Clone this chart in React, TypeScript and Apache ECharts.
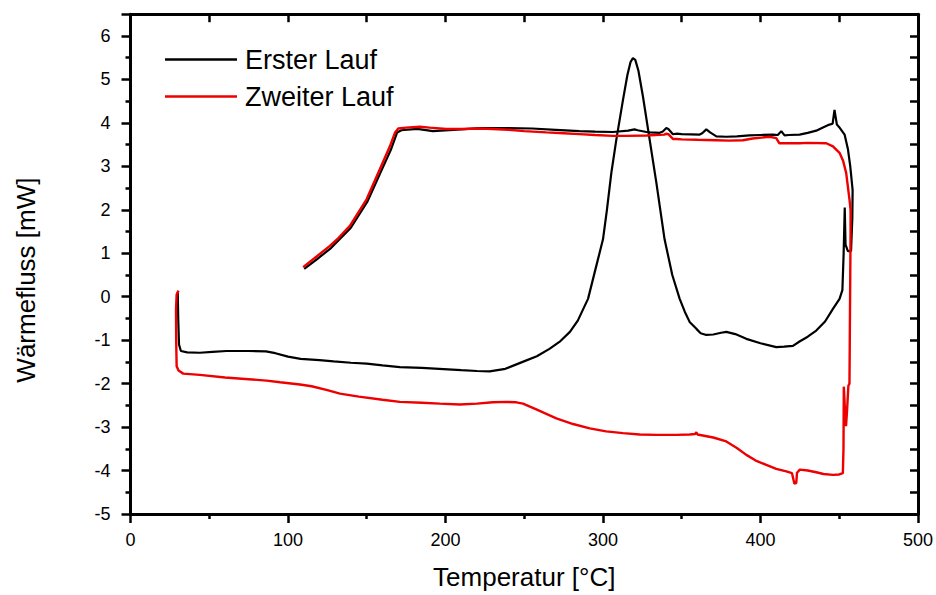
import React, { useEffect, useRef } from "react";
import * as echarts from "echarts";

// Erster Lauf (first run) — temperature [°C] and heat flow [mW] along the measured path
const ersterT = [
  30, 30.3, 30.8, 32, 36, 44, 52, 61, 75, 86, 92, 100, 108, 120, 129, 140, 150, 160, 171, 185, 196, 210, 220, 228,
  238, 249, 258, 266, 273, 279, 284, 287.5, 290.5, 295, 300, 302.5, 305.3, 308.5, 312.7, 315.5, 317.5, 319, 320.5,
  322.5, 325.4, 329.6, 333.9, 339.1, 344, 348.7, 352, 355, 359.3, 362, 365.6, 370, 375, 378.3, 384, 391, 400, 410,
  415, 420.6, 424.8, 430, 435.4, 441, 446, 450.2, 452, 452.8, 453.5, 454, 455.5, 457.5, 458.3, 458.5, 457, 455.5,
  453.4, 450, 448.5, 447, 445.8, 443.8, 440, 435.4, 430, 424.8, 418, 415.3, 413.2, 411, 407.9, 400, 393, 385, 378.3,
  372, 368, 365.6, 363, 361.4, 350, 346.6, 344.4, 341.5, 340.2, 338, 336, 330, 327.6, 322, 320, 316, 306.3, 295, 285,
  270, 255, 240, 222, 205, 192, 182, 172, 169.3, 165.3, 158.8, 150.3, 139.8, 127.3, 118.3, 110.3,
];
const ersterW = [
  0.1, -0.5, -1.1, -1.25, -1.28, -1.29, -1.27, -1.25, -1.25, -1.26, -1.3, -1.38, -1.43, -1.46, -1.49, -1.52, -1.54,
  -1.58, -1.62, -1.64, -1.66, -1.69, -1.71, -1.72, -1.66, -1.5, -1.37, -1.2, -1.02, -0.81, -0.55, -0.28, -0.05, 0.6,
  1.32, 2.0, 2.85, 3.62, 4.53, 5.1, 5.4, 5.49, 5.45, 5.2, 4.6, 3.62, 2.62, 1.32, 0.5, -0.05, -0.35, -0.58, -0.74,
  -0.84, -0.88, -0.87, -0.83, -0.81, -0.86, -0.97, -1.07, -1.16, -1.15, -1.13, -1.03, -0.92, -0.78, -0.57, -0.28,
  -0.05, 0.15, 1.0, 2.05, 1.2, 1.05, 1.05, 1.8, 2.45, 3.0, 3.4, 3.73, 3.9, 3.96, 4.3, 3.98, 3.96, 3.9, 3.82, 3.77,
  3.73, 3.72, 3.71, 3.81, 3.72, 3.73, 3.72, 3.71, 3.69, 3.68, 3.69, 3.78, 3.85, 3.76, 3.73, 3.74, 3.75, 3.74, 3.86,
  3.88, 3.8, 3.77, 3.78, 3.79, 3.83, 3.85, 3.82, 3.79, 3.8, 3.81, 3.84, 3.87, 3.88, 3.88, 3.84, 3.81, 3.86, 3.83,
  3.78, 3.38, 2.86, 2.18, 1.58, 1.12, 0.86, 0.64,
];

// Zweiter Lauf (second run)
const zweiterT = [
  30.5, 29.3, 28.9, 29.0, 29.3, 30.5, 33.5, 44, 60, 75, 86.4, 95, 107.6, 115, 125, 133, 145, 160, 171, 185, 196.4,
  209, 220, 230, 238.7, 245, 249.2, 258, 270.4, 281, 291.6, 302, 312.7, 323.3, 334, 346.6, 355, 358.5, 359.3, 360,
  370, 378.3, 385, 391, 397, 403.7, 410, 416.4, 420, 421.5, 422.7, 423.2, 425, 430, 435.4, 440, 446, 450, 452.3,
  452.7, 452.9, 453.5, 454.3, 455, 455.8, 456.5, 456.7, 457, 457.2, 457.2, 456.5, 454.4, 452.5, 450.2, 446, 441.8,
  430, 424.8, 415, 412, 410, 405.8, 395, 388.8, 380, 372, 360, 350, 346.6, 344.4, 341.5, 340, 339, 333, 327.6, 315,
  306.3, 295, 285, 275, 264, 250, 240, 230, 221.8, 210, 200.6, 190, 183.7, 175, 170, 168, 164.7, 158.3, 149.9,
  139.3, 132, 126.6, 118, 109.6,
];
const zweiterW = [
  0.14, 0.05, -0.3, -1.0, -1.6, -1.7, -1.77, -1.8, -1.86, -1.9, -1.93, -1.97, -2.02, -2.06, -2.15, -2.23, -2.3,
  -2.37, -2.42, -2.44, -2.46, -2.48, -2.46, -2.43, -2.42, -2.43, -2.46, -2.6, -2.8, -2.93, -3.03, -3.1, -3.14, -3.17,
  -3.18, -3.18, -3.17, -3.16, -3.12, -3.17, -3.24, -3.33, -3.48, -3.64, -3.77, -3.87, -3.96, -4.02, -4.06, -4.3,
  -4.29, -4.05, -3.98, -4.0, -4.04, -4.08, -4.1, -4.09, -4.06, -3.5, -2.07, -2.5, -2.98, -2.6, -2.05, -2.0, -1.0, 0.5,
  1.5, 2.0, 2.24, 2.85, 3.12, 3.31, 3.46, 3.53, 3.54, 3.53, 3.53, 3.53, 3.65, 3.68, 3.64, 3.6, 3.59, 3.6, 3.61,
  3.62, 3.63, 3.63, 3.74, 3.75, 3.73, 3.72, 3.71, 3.7, 3.7, 3.72, 3.74, 3.76, 3.78, 3.81, 3.84, 3.86, 3.87, 3.86,
  3.86, 3.89, 3.91, 3.89, 3.87, 3.78, 3.46, 2.93, 2.24, 1.63, 1.35, 1.17, 0.92, 0.68,
];

const seriesNames = ["Erster Lauf", "Zweiter Lauf"];
const seriesColors = ["#000000", "#ee0000"];
const xTitle = "Temperatur [°C]";
const yTitle = "Wärmefluss [mW]";

const zip = (a: number[], b: number[]) => a.map((v, i) => [v, b[i]]);

export default function App() {
  const ref = useRef<HTMLDivElement>(null);
  useEffect(() => {
    if (!ref.current) return;
    const chart = echarts.init(ref.current, undefined, { renderer: "svg" });
    const font = "'Liberation Sans', Arial, sans-serif";
    const axisLine = { show: true, onZero: false, lineStyle: { color: "#000", width: 3 } };
    const tickStyle = { color: "#000", width: 2.5 };
    chart.setOption({
      animation: false,
      backgroundColor: "#fff",
      textStyle: { fontFamily: font },
      grid: { left: 130.5, right: 17.5, top: 14.2, bottom: 78.7, containLabel: false },
      legend: {
        left: 165,
        top: 46,
        orient: "vertical",
        padding: 0,
        icon: "rect",
        itemWidth: 72,
        itemHeight: 2.5,
        itemGap: 10,
        textStyle: { fontSize: 27, color: "#000", fontFamily: font, padding: [0, 0, 0, 3] },
        data: seriesNames.map((n, i) => ({ name: n, itemStyle: { color: seriesColors[i] } })),
      },
      xAxis: [
        {
          type: "value",
          position: "bottom",
          min: 0,
          max: 500,
          interval: 100,
          axisLine,
          axisTick: { show: true, inside: false, length: 9, lineStyle: tickStyle },
          minorTick: { show: true, splitNumber: 2, length: 5, lineStyle: tickStyle },
          axisLabel: { color: "#000", fontSize: 18, margin: 17, fontFamily: font },
          splitLine: { show: false },
          name: xTitle,
          nameLocation: "middle",
          nameGap: 50,
          nameTextStyle: { fontSize: 26, color: "#000", fontFamily: font },
        },
        {
          type: "value",
          position: "top",
          min: 0,
          max: 500,
          interval: 50,
          axisLine,
          axisTick: { show: true, inside: true, length: 8, lineStyle: tickStyle },
          axisLabel: { show: false },
          splitLine: { show: false },
        },
      ],
      yAxis: [
        {
          type: "value",
          position: "left",
          min: -5,
          max: 6.5,
          interval: 1,
          axisLine,
          axisTick: { show: true, inside: false, length: 9, lineStyle: tickStyle },
          minorTick: { show: true, splitNumber: 2, length: 5, lineStyle: tickStyle },
          axisLabel: { color: "#000", fontSize: 18, margin: 20, fontFamily: font, showMaxLabel: false },
          splitLine: { show: false },
          name: yTitle,
          nameLocation: "middle",
          nameRotate: 90,
          nameGap: 92,
          nameTextStyle: { fontSize: 26, color: "#000", fontFamily: font, padding: [0, 32, 0, 0] },
        },
        {
          type: "value",
          position: "right",
          min: -5,
          max: 6.5,
          interval: 0.5,
          axisLine,
          axisTick: { show: true, inside: true, length: 8, lineStyle: tickStyle },
          axisLabel: { show: false },
          splitLine: { show: false },
        },
      ],
      series: [
        {
          name: seriesNames[0],
          type: "line",
          xAxisIndex: 0,
          yAxisIndex: 0,
          data: zip(ersterT, ersterW),
          symbol: "none",
          smooth: false,
          lineStyle: { color: seriesColors[0], width: 2.2 },
          itemStyle: { color: seriesColors[0] },
        },
        {
          name: seriesNames[1],
          type: "line",
          xAxisIndex: 0,
          yAxisIndex: 0,
          data: zip(zweiterT, zweiterW),
          symbol: "none",
          smooth: false,
          lineStyle: { color: seriesColors[1], width: 2.4 },
          itemStyle: { color: seriesColors[1] },
        },
      ],
    });
    return () => chart.dispose();
  }, []);
  return (
    <div
      ref={ref}
      style={{ position: "absolute", left: 0, top: 0, width: 936, height: 595, background: "#fff" }}
    />
  );
}
